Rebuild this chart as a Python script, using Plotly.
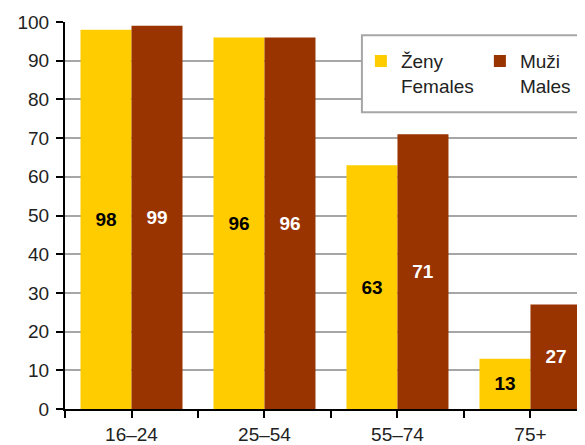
import plotly.graph_objects as go

categories = ["16–24", "25–54", "55–74", "75+"]
females = [98, 96, 63, 13]
males = [99, 96, 71, 27]
series_names = ["Ženy<br>Females", "Muži<br>Males"]
y_ticks = list(range(0, 101, 10))

FONT = "Liberation Sans, Arial, sans-serif"
YELLOW = "#FFCC00"
BROWN = "#993300"
GRID = "#A6A6A6"

pos = list(range(len(categories)))

fig = go.Figure()
fig.add_trace(go.Bar(
    x=pos, y=females, name=series_names[0], marker=dict(color=YELLOW, line=dict(width=0)),
    text=[str(v) for v in females], textposition="inside", insidetextanchor="middle",
    textangle=0, textfont=dict(family=FONT, size=19, color="black", weight="bold"),
))
fig.add_trace(go.Bar(
    x=pos, y=males, name=series_names[1], marker=dict(color=BROWN, line=dict(width=0)),
    text=[str(v) for v in males], textposition="inside", insidetextanchor="middle",
    textangle=0, textfont=dict(family=FONT, size=19, color="white", weight="bold"),
))

tickvals = []
ticktext = []
for p, c in zip(pos, categories):
    tickvals += [p - 0.5, p]
    ticktext += ["", c]

# legend frame (page has an 8px body margin, figure sized to compensate)
fig.add_shape(type="rect", xref="paper", yref="paper",
              x0=0.571, x1=0.998, y0=0.767, y1=0.966,
              line=dict(color=GRID, width=2), fillcolor="white", layer="above")

fig.update_layout(
    width=577, height=437,
    margin=dict(l=57, r=0, t=14, b=36, autoexpand=False),
    paper_bgcolor="white", plot_bgcolor="white",
    barmode="group", bargap=0.233, bargroupgap=0,
    font=dict(family=FONT, size=19, color="#222222"),
    showlegend=True,
    legend=dict(
        orientation="h", x=0.569, y=0.948, xanchor="left", yanchor="top",
        borderwidth=0, bgcolor="rgba(0,0,0,0)", valign="top",
        entrywidth=74, entrywidthmode="pixels",
        font=dict(family=FONT, size=19, color="#222222"),
    ),
    xaxis=dict(
        range=[-0.5, 3.41], tickmode="array", tickvals=tickvals, ticktext=ticktext,
        showline=True, linecolor="black", linewidth=2,
        ticks="outside", ticklen=7, tickcolor="black", tickwidth=2,
        showgrid=False, zeroline=False,
    ),
    yaxis=dict(
        range=[0, 100], tickmode="array", tickvals=y_ticks,
        showline=True, linecolor="black", linewidth=2,
        ticks="outside", ticklen=7, tickcolor="black", tickwidth=2,
        ticklabelstandoff=3,
        showgrid=True, gridcolor=GRID, gridwidth=2, zeroline=False,
    ),
)

fig.write_html("out.html")
